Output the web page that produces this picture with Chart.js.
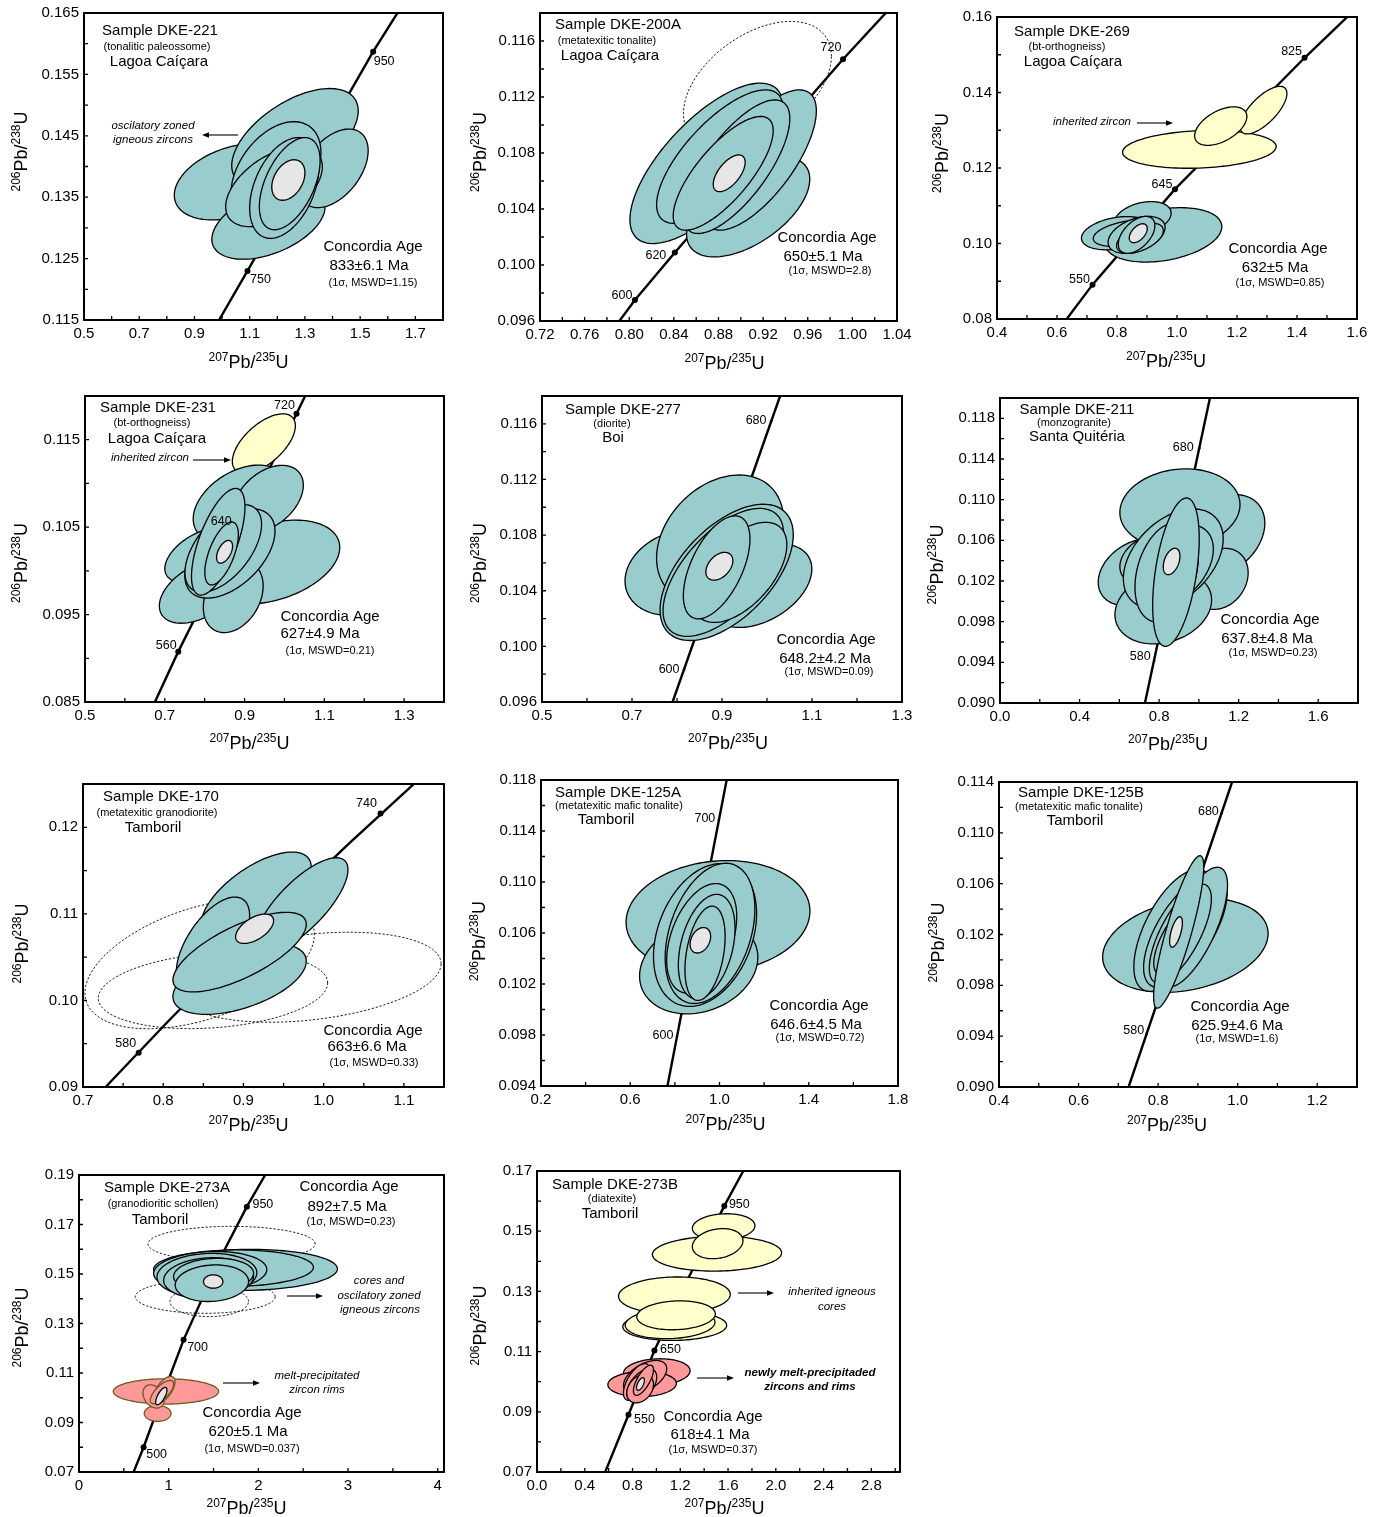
<!doctype html>
<html lang="en">
<head>
<meta charset="UTF-8" />
<title>U-Pb concordia diagrams</title>
<script src="https://cdn.jsdelivr.net/npm/chart.js@4"></script>
<style>
  body { margin: 0; background: #fff; }
  #fig { position: relative; width: 1379px; height: 1517px; overflow: hidden; background: #fff; }
  #fig canvas { position: absolute; }
</style>
</head>
<body>
<div id="fig"></div>
<script>
const FONT = '"Liberation Sans", Arial, Helvetica, sans-serif';
// zircon populations: ign = igneous/concordant, inh = inherited, rim = melt-precipitated,
// age = concordia age ellipse, exc = excluded analyses (dashed)
const COLORS = { ign: '#99CCCC', inh: '#FFFFCC', rim: '#FF9999', age: '#E6E6E6' };

// ---------- DKE-221 ----------
const dke221XLabels = ['0.5', '0.7', '0.9', '1.1', '1.3', '1.5', '1.7'];
const dke221YLabels = ['0.115', '0.125', '0.135', '0.145', '0.155', '0.165'];
const dke221Concordia = [[0.97, 0.1135], [1.092, 0.123], [1.547, 0.1587], [1.67, 0.1675]];
const dke221Ages = [['950', 1.547, 0.1587], ['750', 1.092, 0.123]];
const dke221Ellipses = [
  ['ign', 1.038, 0.1375, 0.211, 0.0062, 0.35],
  ['ign', 1.168, 0.1308, 0.205, 0.0059, 0.45],
  ['ign', 1.264, 0.1446, 0.229, 0.0081, 0.55],
  ['ign', 1.403, 0.1397, 0.126, 0.0064, 0.45],
  ['ign', 1.195, 0.1389, 0.163, 0.0084, 0.4],
  ['ign', 1.188, 0.1367, 0.175, 0.0065, 0.5],
  ['ign', 1.225, 0.1365, 0.125, 0.0082, 0.4],
  ['ign', 1.245, 0.1372, 0.11, 0.0075, 0.5],
  ['age', 1.24, 0.1378, 0.06, 0.0033, 0.35],
];

// ---------- DKE-200A ----------
const dke200aXLabels = ['0.72', '0.76', '0.80', '0.84', '0.88', '0.92', '0.96', '1.00', '1.04'];
const dke200aYLabels = ['0.096', '0.100', '0.104', '0.108', '0.112', '0.116'];
const dke200aConcordia = [[0.78, 0.0948], [0.8051, 0.0975], [0.8409, 0.1009], [0.9916, 0.1147], [1.045, 0.1193]];
const dke200aAges = [['600', 0.8051, 0.0975], ['620', 0.8409, 0.1009], ['720', 0.9916, 0.1147]];
const dke200aEllipses = [
  ['exc', 0.9149, 0.11287, 0.0663, 0.00453, 0.45],
  ['ign', 0.8693, 0.10726, 0.0687, 0.00573, 0.7],
  ['ign', 0.9066, 0.10416, 0.0552, 0.00358, 0.55],
  ['ign', 0.917, 0.1075, 0.0507, 0.00501, 0.7],
  ['ign', 0.8812, 0.10774, 0.0567, 0.00477, 0.72],
  ['ign', 0.8961, 0.10702, 0.0478, 0.00477, 0.72],
  ['ign', 0.8842, 0.10655, 0.0448, 0.00406, 0.75],
  ['age', 0.8896, 0.10655, 0.0143, 0.00131, 0.6],
];

// ---------- DKE-269 ----------
const dke269XLabels = ['0.4', '0.6', '0.8', '1.0', '1.2', '1.4', '1.6'];
const dke269YLabels = ['0.08', '0.10', '0.12', '0.14', '0.16'];
const dke269Concordia = [[0.62, 0.0787], [0.7184, 0.0891], [0.9933, 0.1144], [1.4253, 0.1492], [1.62, 0.164]];
const dke269Ages = [['825', 1.4253, 0.1492], ['645', 0.9933, 0.1144], ['550', 0.7184, 0.0891]];
const dke269Ellipses = [
  ['inh', 1.0746, 0.12493, 0.256, 0.005, 0.15],
  ['inh', 1.2883, 0.13533, 0.078, 0.0063, 0.7],
  ['inh', 1.1459, 0.1311, 0.087, 0.0051, 0.5],
  ['ign', 0.9544, 0.10229, 0.195, 0.0072, 0.3],
  ['ign', 0.8854, 0.1067, 0.095, 0.0044, 0.3],
  ['ign', 0.7985, 0.10273, 0.117, 0.0044, 0.3],
  ['ign', 0.8319, 0.10273, 0.111, 0.0035, 0.4],
  ['ign', 0.8653, 0.10229, 0.095, 0.0049, 0.4],
  ['ign', 0.8765, 0.10141, 0.078, 0.004, 0.5],
  ['ign', 0.8653, 0.10229, 0.061, 0.0049, 0.5],
  ['age', 0.8709, 0.10273, 0.03, 0.0025, 0.5],
];

// ---------- DKE-231 ----------
const dke231XLabels = ['0.5', '0.7', '0.9', '1.1', '1.3'];
const dke231YLabels = ['0.085', '0.095', '0.105', '0.115'];
const dke231Concordia = [[0.66, 0.0835], [0.7338, 0.09076], [0.8841, 0.10447], [1.0303, 0.11798], [1.07, 0.1217]];
const dke231Ages = [['560', 0.7338, 0.09076], ['640', 0.8841, 0.10447], ['720', 1.0303, 0.11798]];
const dke231Ellipses = [
  ['inh', 0.9484, 0.11456, 0.079, 0.0034, 0.6],
  ['ign', 0.9676, 0.101, 0.171, 0.0048, 0.35],
  ['ign', 0.8883, 0.1077, 0.117, 0.0044, 0.4],
  ['ign', 0.9593, 0.10827, 0.088, 0.0038, 0.4],
  ['ign', 0.7881, 0.1018, 0.088, 0.0031, 0.5],
  ['ign', 0.7864, 0.09761, 0.1, 0.0036, 0.45],
  ['ign', 0.8716, 0.09704, 0.075, 0.0041, 0.3],
  ['ign', 0.8633, 0.10199, 0.113, 0.0051, 0.5],
  ['ign', 0.8466, 0.10256, 0.096, 0.005, 0.55],
  ['ign', 0.834, 0.10333, 0.067, 0.0061, 0.65],
  ['ign', 0.8424, 0.10199, 0.042, 0.0036, 0.6],
  ['age', 0.8499, 0.10218, 0.02, 0.0013, 0.5],
];

// ---------- DKE-277 ----------
const dke277XLabels = ['0.5', '0.7', '0.9', '1.1', '1.3'];
const dke277YLabels = ['0.096', '0.100', '0.104', '0.108', '0.112', '0.116'];
const dke277Concordia = [[0.77, 0.09415], [0.7902, 0.096], [1.0291, 0.118], [1.05, 0.11992]];
const dke277Ages = [['680', 1.0091, 0.11618], ['600', 0.8157, 0.09831]];
const dke277Ellipses = [
  ['ign', 0.8065, 0.10532, 0.122, 0.0031, 0.2],
  ['ign', 0.9846, 0.10436, 0.115, 0.003, 0.4],
  ['ign', 0.8956, 0.10772, 0.141, 0.0046, 0.3],
  ['ign', 0.9104, 0.10532, 0.148, 0.0049, 0.55],
  ['ign', 0.903, 0.10532, 0.134, 0.0046, 0.6],
  ['ign', 0.9401, 0.10532, 0.104, 0.0036, 0.55],
  ['ign', 0.8881, 0.10568, 0.074, 0.0037, 0.55],
  ['age', 0.8941, 0.10576, 0.03, 0.001, 0.4],
];

// ---------- DKE-211 ----------
const dke211XLabels = ['0.0', '0.4', '0.8', '1.2', '1.6'];
const dke211YLabels = ['0.090', '0.094', '0.098', '0.102', '0.106', '0.110', '0.114', '0.118'];
const dke211Concordia = [[0.71, 0.08827], [0.7288, 0.09], [1.0555, 0.12], [1.075, 0.1218]];
const dke211Ages = [['680', 1.0018, 0.11506], ['580', 0.7752, 0.09414]];
const dke211Ellipses = [
  ['ign', 1.1225, 0.10649, 0.209, 0.004, 0.3],
  ['ign', 1.1057, 0.10221, 0.142, 0.003, 0.2],
  ['ign', 0.9047, 0.10913, 0.302, 0.0039, 0.1],
  ['ign', 0.6869, 0.10287, 0.193, 0.0033, 0.3],
  ['ign', 0.8209, 0.09941, 0.243, 0.0036, 0.2],
  ['ign', 0.7707, 0.10419, 0.168, 0.0026, 0.3],
  ['ign', 0.8712, 0.10419, 0.251, 0.0049, 0.4],
  ['ign', 0.8796, 0.10353, 0.193, 0.004, 0.4],
  ['ign', 0.8377, 0.10287, 0.159, 0.0049, 0.3],
  ['ign', 0.8846, 0.10287, 0.117, 0.0073, 0.45],
  ['age', 0.8628, 0.10392, 0.042, 0.0013, 0.4],
];

// ---------- DKE-170 ----------
const dke170XLabels = ['0.7', '0.8', '0.9', '1.0', '1.1'];
const dke170YLabels = ['0.09', '0.10', '0.11', '0.12'];
const dke170Concordia = [[0.7182, 0.089], [0.7359, 0.09075], [0.8056, 0.09754], [0.8783, 0.10438],
  [0.9537, 0.11125], [1.0321, 0.11817], [1.1138, 0.12512], [1.16, 0.1289]];
const dke170Ages = [['580', 0.7694, 0.09396], ['740', 1.0709, 0.1216]];
const dke170Ellipses = [
  ['exc', 0.8454, 0.10423, 0.143, 0.0075, 0.45],
  ['exc', 0.862, 0.10114, 0.143, 0.0044, 0.2],
  ['exc', 0.9824, 0.10268, 0.164, 0.0052, 0.3],
  ['ign', 0.916, 0.11214, 0.0685, 0.005, 0.65],
  ['ign', 0.9721, 0.11098, 0.0582, 0.0055, 0.75],
  ['ign', 0.862, 0.10654, 0.0457, 0.0054, 0.6],
  ['ign', 0.8952, 0.10249, 0.0831, 0.0041, 0.5],
  ['ign', 0.8952, 0.10558, 0.0831, 0.0046, 0.7],
  ['age', 0.9139, 0.10828, 0.0237, 0.0017, 0.55],
];

// ---------- DKE-125A ----------
const dke125aXLabels = ['0.2', '0.6', '1.0', '1.4', '1.8'];
const dke125aYLabels = ['0.094', '0.098', '0.102', '0.106', '0.110', '0.114', '0.118'];
const dke125aConcordia = [[0.75, 0.0925], [0.7667, 0.094], [1.0321, 0.118], [1.05, 0.1196]];
const dke125aAges = [['700', 0.9973, 0.11486], ['600', 0.8095, 0.09787]];
const dke125aEllipses = [
  ['ign', 0.9933, 0.10728, 0.412, 0.0044, 0.1],
  ['ign', 0.9068, 0.10336, 0.265, 0.0037, 0.2],
  ['ign', 0.9352, 0.10584, 0.231, 0.0056, 0.3],
  ['ign', 0.9575, 0.10597, 0.201, 0.0055, 0.35],
  ['ign', 0.9203, 0.10558, 0.157, 0.0043, 0.4],
  ['ign', 0.9426, 0.10493, 0.127, 0.0041, 0.35],
  ['ign', 0.9352, 0.10441, 0.09, 0.0037, 0.35],
  ['age', 0.9143, 0.10543, 0.046, 0.001, 0.3],
];

// ---------- DKE-125B ----------
const dke125bXLabels = ['0.4', '0.6', '0.8', '1.0', '1.2'];
const dke125bYLabels = ['0.090', '0.094', '0.098', '0.102', '0.106', '0.110', '0.114'];
const dke125bConcordia = [[0.71, 0.08855], [0.7258, 0.09], [0.986, 0.114], [1.0, 0.1153]];
const dke125bAges = [['680', 0.959, 0.11151], ['580', 0.7713, 0.0942]];
const dke125bEllipses = [
  ['ign', 0.8685, 0.10115, 0.208, 0.0037, 0.25],
  ['ign', 0.839, 0.10233, 0.1, 0.0048, 0.6],
  ['ign', 0.8685, 0.10233, 0.105, 0.0045, 0.65],
  ['ign', 0.8895, 0.10259, 0.085, 0.0047, 0.7],
  ['ign', 0.8559, 0.10207, 0.078, 0.0039, 0.7],
  ['ign', 0.8391, 0.10154, 0.05, 0.0026, 0.7],
  ['ign', 0.8517, 0.1022, 0.063, 0.006, 0.85],
  ['age', 0.845, 0.1022, 0.016, 0.0012, 0.6],
];

// ---------- DKE-273A ----------
const dke273aXLabels = ['0', '1', '2', '3', '4'];
const dke273aYLabels = ['0.07', '0.09', '0.11', '0.13', '0.15', '0.17', '0.19'];
const dke273aConcordia = [[0.55, 0.0647], [0.609, 0.07], [0.7205, 0.08], [0.9322, 0.101], [1.1662, 0.1234],
  [1.5933, 0.1577], [1.8719, 0.1772], [2.076, 0.19], [2.15, 0.1945]];
const dke273aAges = [['950', 1.8719, 0.1772], ['700', 1.1662, 0.1234], ['500', 0.7205, 0.08]];
const dke273aEllipses = [
  ['exc', 1.701, 0.16215, 0.932, 0.0071, 0],
  ['exc', 1.4076, 0.14082, 0.78, 0.0067, 0],
  ['exc', 1.4522, 0.13888, 0.438, 0.0061, 0],
  ['ign', 1.8607, 0.15166, 1.021, 0.0083, 0.05],
  ['ign', 1.7233, 0.15233, 0.891, 0.0074, 0.05],
  ['ign', 1.4633, 0.151, 0.631, 0.0081, 0.1],
  ['ign', 1.4262, 0.14964, 0.557, 0.0087, 0.1],
  ['ign', 1.4448, 0.14829, 0.501, 0.0083, 0.1],
  ['ign', 1.5005, 0.14964, 0.446, 0.0067, 0.1],
  ['ign', 1.4819, 0.14628, 0.409, 0.0074, 0.1],
  ['age', 1.4967, 0.14695, 0.108, 0.0027, 0],
  ['rim', 0.9694, 0.10255, 0.587, 0.0051, 0],
  ['rim', 0.8765, 0.09367, 0.149, 0.0032, 0],
  ['rim', 0.8319, 0.10053, 0.119, 0.0047, -0.3],
  ['rim', 0.9508, 0.10322, 0.119, 0.0054, 0.6],
  ['rim', 0.9248, 0.10228, 0.13, 0.0047, 0.7],
  ['age', 0.9174, 0.10067, 0.063, 0.0035, 0.7],
];

// ---------- DKE-273B ----------
const dke273bXLabels = ['0.0', '0.4', '0.8', '1.2', '1.6', '2.0', '2.4', '2.8'];
const dke273bYLabels = ['0.07', '0.09', '0.11', '0.13', '0.15', '0.17'];
const dke273bConcordia = [[0.55, 0.068], [0.5712, 0.07], [0.7662, 0.089], [0.9836, 0.1104], [1.265, 0.1342],
  [1.5687, 0.1584], [1.7275, 0.17], [1.76, 0.1724]];
const dke273bAges = [['950', 1.5687, 0.1584], ['650', 0.9836, 0.1104], ['550', 0.7662, 0.089]];
const dke273bEllipses = [
  ['inh', 1.5631, 0.1514, 0.262, 0.0044, 0.1],
  ['inh', 1.5074, 0.14254, 0.541, 0.0058, 0.05],
  ['inh', 1.513, 0.14586, 0.212, 0.005, 0.2],
  ['inh', 1.1507, 0.12869, 0.468, 0.0061, 0.05],
  ['inh', 1.1535, 0.11851, 0.435, 0.0048, 0.05],
  ['inh', 1.1145, 0.11928, 0.376, 0.005, 0.1],
  ['inh', 1.1647, 0.12205, 0.329, 0.0048, 0.1],
  ['rim', 1.0031, 0.10322, 0.279, 0.0044, 0.1],
  ['rim', 0.8805, 0.09923, 0.287, 0.0042, 0.05],
  ['rim', 0.9055, 0.10156, 0.181, 0.0055, 0.5],
  ['rim', 0.8359, 0.0999, 0.112, 0.0061, 0.6],
  ['rim', 0.8777, 0.09879, 0.125, 0.0055, 0.5],
  ['rim', 0.8638, 0.09768, 0.112, 0.0047, 0.3],
  ['rim', 0.8916, 0.10046, 0.084, 0.005, 0.7],
  ['age', 0.8666, 0.09923, 0.033, 0.0021, 0.6],
];

// ---------- panel layout (page pixels, text offsets from plot corner) ----------
const PANELS = [
  { box: [84, 13, 443, 320], x: [0.5, 1.8, 0.1], y: [0.115, 0.165, 0.005], xl: dke221XLabels, yl: dke221YLabels,
    conc: dke221Concordia, ages: dke221Ages, ell: dke221Ellipses, dot: 3, ageOff: [[11, 10], [13, 9]],
    text: [['Sample DKE-221', 76, 18, 15], ['(tonalitic paleossome)', 73, 34, 11], ['Lagoa Caíçara', 75, 49, 15],
      ['oscilatory zoned', 69, 113, 11.5, 'italic'], ['igneous zircons', 69, 127, 11.5, 'italic'],
      ['Concordia Age', 289, 234, 15], ['833±6.1 Ma', 285, 253, 15], ['(1σ, MSWD=1.15)', 289, 270, 11]],
    arrows: [[154, 122, 118, 122]], ytX: 64, ytDy: -15, xtY: 41, xtDx: -15 },
  { box: [540, 13, 897, 321], x: [0.72, 1.04, 0.02], y: [0.096, 0.118, 0.002], xl: dke200aXLabels, yl: dke200aYLabels,
    conc: dke200aConcordia, ages: dke200aAges, ell: dke200aEllipses, dot: 3, ageOff: [[-13, -4], [-19, 3], [-12, -12]],
    text: [['Sample DKE-200A', 78, 12, 15], ['(metatexitic tonalite)', 67, 28, 11], ['Lagoa Caíçara', 70, 43, 15],
      ['Concordia Age', 287, 225, 15], ['650±5.1 Ma', 283, 244, 15], ['(1σ, MSWD=2.8)', 290, 258, 11]],
    arrows: [], ytX: 61, ytDy: -15, xtY: 41, xtDx: 6 },
  { box: [997, 17, 1357, 319], x: [0.4, 1.6, 0.1], y: [0.08, 0.16, 0.01], xl: dke269XLabels, yl: dke269YLabels,
    conc: dke269Concordia, ages: dke269Ages, ell: dke269Ellipses, dot: 3, ageOff: [[-13, -6], [-13, -5], [-13, -5]],
    text: [['Sample DKE-269', 75, 15, 15], ['(bt-orthogneiss)', 70, 30, 11], ['Lagoa Caíçara', 76, 45, 15],
      ['inherited zircon', 95, 105, 11.5, 'italic'],
      ['Concordia Age', 281, 232, 15], ['632±5 Ma', 278, 251, 15], ['(1σ, MSWD=0.85)', 283, 266, 11]],
    arrows: [[140, 106, 176, 106]], ytX: 56, ytDy: -15, xtY: 41, xtDx: -11 },
  { box: [85, 396, 444, 702], x: [0.5, 1.4, 0.1], y: [0.085, 0.12, 0.005], xl: dke231XLabels, yl: dke231YLabels,
    conc: dke231Concordia, ages: dke231Ages, ell: dke231Ellipses, dot: 3, ageOff: [[-12, -6], [-17, -10], [-12, -8]],
    text: [['Sample DKE-231', 73, 12, 15], ['(bt-orthogneiss)', 67, 27, 11], ['Lagoa Caíçara', 72, 43, 15],
      ['inherited zircon', 65, 62, 11.5, 'italic'],
      ['Concordia Age', 245, 221, 15], ['627±4.9 Ma', 235, 238, 15], ['(1σ, MSWD=0.21)', 245, 255, 11]],
    arrows: [[108, 64, 146, 64]], ytX: 65, ytDy: 14, xtY: 40, xtDx: -15 },
  { box: [542, 396, 902, 702], x: [0.5, 1.3, 0.1], y: [0.096, 0.118, 0.002], xl: dke277XLabels, yl: dke277YLabels,
    conc: dke277Concordia, ages: dke277Ages, ell: dke277Ellipses, dot: 1.3, ageOff: [[-15, -1], [-15, 0]],
    text: [['Sample DKE-277', 81, 14, 15], ['(diorite)', 70, 28, 11], ['Boi', 71, 42, 15],
      ['Concordia Age', 284, 244, 15], ['648.2±4.2 Ma', 283, 263, 15], ['(1σ, MSWD=0.09)', 287, 276, 11]],
    arrows: [], ytX: 63, ytDy: 14, xtY: 40, xtDx: 6 },
  { box: [1000, 398, 1358, 703], x: [0, 1.8, 0.2], y: [0.09, 0.12, 0.002], xl: dke211XLabels, yl: dke211YLabels,
    conc: dke211Concordia, ages: dke211Ages, ell: dke211Ellipses, dot: 1.3, ageOff: [[-16, -1], [-14, -4]],
    text: [['Sample DKE-211', 77, 12, 15], ['(monzogranite)', 74, 25, 11], ['Santa Quitéria', 77, 39, 15],
      ['Concordia Age', 270, 222, 15], ['637.8±4.8 Ma', 267, 241, 15], ['(1σ, MSWD=0.23)', 273, 255, 11]],
    arrows: [], ytX: 64, ytDy: 14, xtY: 40, xtDx: -11 },
  { box: [83, 784, 444, 1087], x: [0.7, 1.15, 0.05], y: [0.09, 0.125, 0.005], xl: dke170XLabels, yl: dke170YLabels,
    conc: dke170Concordia, ages: dke170Ages, ell: dke170Ellipses, dot: 3, ageOff: [[-13, -9], [-14, -10]],
    text: [['Sample DKE-170', 78, 13, 15], ['(metatexitic granodiorite)', 74, 29, 11], ['Tamboril', 70, 44, 15],
      ['Concordia Age', 290, 247, 15], ['663±6.6 Ma', 284, 263, 15], ['(1σ, MSWD=0.33)', 291, 279, 11]],
    arrows: [], ytX: 62, ytDy: 8, xtY: 37, xtDx: -15 },
  { box: [541, 780, 898, 1086], x: [0.2, 1.8, 0.2], y: [0.094, 0.118, 0.002], xl: dke125aXLabels, yl: dke125aYLabels,
    conc: dke125aConcordia, ages: dke125aAges, ell: dke125aEllipses, dot: 1.3, ageOff: [[-14, -1], [-14, -1]],
    text: [['Sample DKE-125A', 77, 13, 15], ['(metatexitic mafic tonalite)', 78, 26, 11], ['Tamboril', 65, 40, 15],
      ['Concordia Age', 278, 226, 15], ['646.6±4.5 Ma', 275, 245, 15], ['(1σ, MSWD=0.72)', 279, 258, 11]],
    arrows: [], ytX: 63, ytDy: 8, xtY: 37, xtDx: 6 },
  { box: [999, 782, 1357, 1087], x: [0.4, 1.3, 0.1], y: [0.09, 0.114, 0.002], xl: dke125bXLabels, yl: dke125bYLabels,
    conc: dke125bConcordia, ages: dke125bAges, ell: dke125bEllipses, dot: 1.3, ageOff: [[-13, -2], [-13, -3]],
    text: [['Sample DKE-125B', 82, 11, 15], ['(metatexitic mafic tonalite)', 80, 25, 11], ['Tamboril', 76, 39, 15],
      ['Concordia Age', 241, 225, 15], ['625.9±4.6 Ma', 238, 244, 15], ['(1σ, MSWD=1.6)', 238, 257, 11]],
    arrows: [], ytX: 62, ytDy: 8, xtY: 37, xtDx: -11 },
  { box: [79, 1175, 444, 1472], x: [0, 4.07, 0.5], y: [0.07, 0.19, 0.01], xl: dke273aXLabels, yl: dke273aYLabels,
    conc: dke273aConcordia, ages: dke273aAges, ell: dke273aEllipses, dot: 3, ageOff: [[16, -2], [14, 8], [13, 7]],
    rimEdge: '#6b5a1e',
    text: [['Sample DKE-273A', 88, 13, 15], ['(granodioritic schollen)', 84, 29, 11], ['Tamboril', 81, 45, 15],
      ['Concordia Age', 270, 12, 15], ['892±7.5 Ma', 268, 32, 15], ['(1σ, MSWD=0.23)', 272, 47, 11],
      ['cores and', 300, 106, 11.5, 'italic'], ['oscilatory zoned', 300, 121, 11.5, 'italic'],
      ['igneous zircons', 301, 135, 11.5, 'italic'],
      ['melt-precipitated', 238, 201, 11.5, 'italic'], ['zircon rims', 238, 215, 11.5, 'italic'],
      ['Concordia Age', 173, 238, 15], ['620±5.1 Ma', 169, 257, 15], ['(1σ, MSWD=0.037)', 173, 274, 11]],
    arrows: [[208, 121, 244, 121], [144, 208, 181, 208]], ytX: 58, ytDy: 4, xtY: 35, xtDx: -15 },
  { box: [537, 1171, 900, 1472], x: [0, 3.04, 0.2], y: [0.07, 0.17, 0.01], xl: dke273bXLabels, yl: dke273bYLabels,
    conc: dke273bConcordia, ages: dke273bAges, ell: dke273bEllipses, dot: 3, ageOff: [[15, -1], [16, -1], [16, 5]],
    text: [['Sample DKE-273B', 78, 14, 15], ['(diatexite)', 75, 28, 11], ['Tamboril', 73, 43, 15],
      ['inherited igneous', 295, 121, 11.5, 'italic'], ['cores', 295, 136, 11.5, 'italic'],
      ['newly melt-precipitaded', 273, 202, 11.5, 'bold italic'], ['zircons and rims', 273, 216, 11.5, 'bold italic'],
      ['Concordia Age', 176, 246, 15], ['618±4.1 Ma', 173, 264, 15], ['(1σ, MSWD=0.37)', 176, 279, 11]],
    arrows: [[201, 122, 237, 122], [160, 207, 197, 207]], ytX: 58, ytDy: 4, xtY: 35, xtDx: 6 },
];

const Y_AXIS_W = 80, X_AXIS_H = 60, PAD_TOP = 18, PAD_RIGHT = 26, TICK_LEN = 4;

function tickValues(min, max, step) {
  const out = [];
  for (let k = Math.ceil(min / step - 1e-6); k * step <= max + 1e-9; k++) out.push(+(k * step).toFixed(6));
  return out;
}

function axis(range, labels, isX) {
  const [min, max, step] = range;
  return {
    type: 'linear', min: min, max: max,
    afterBuildTicks: s => { s.ticks = tickValues(min, max, step).map(v => ({ value: v })); },
    afterFit: s => { if (isX) s.height = X_AXIS_H; else s.width = Y_AXIS_W; },
    ticks: {
      autoSkip: false, maxRotation: 0, padding: 5, color: '#000',
      font: { family: FONT, size: 15 },
      callback: v => labels.find(l => Math.abs(parseFloat(l) - v) < 1e-7) || '',
    },
    grid: { display: false, drawTicks: false },
    border: { display: false },
  };
}

// superscripted isotope ratio, e.g. 207Pb/235U, centred on (cx, cy)
function supText(ctx, parts, cx, cy) {
  const big = '18px ' + FONT, small = '12px ' + FONT;
  ctx.textAlign = 'left';
  ctx.textBaseline = 'alphabetic';
  const w = parts.map((s, i) => { ctx.font = i % 2 ? big : small; return ctx.measureText(s).width; });
  let x = cx - w.reduce((p, q) => p + q, 0) / 2;
  const base = cy + 6.5;
  parts.forEach((s, i) => {
    ctx.font = i % 2 ? big : small;
    ctx.fillText(s, x, i % 2 ? base : base - 6.5);
    x += w[i];
  });
}

function arrow(ctx, x1, y1, x2, y2) {
  const ang = Math.atan2(y2 - y1, x2 - x1), L = 7, H = 2.8;
  ctx.lineWidth = 1.1;
  ctx.beginPath();
  ctx.moveTo(x1, y1);
  ctx.lineTo(x2 - L * Math.cos(ang), y2 - L * Math.sin(ang));
  ctx.stroke();
  ctx.beginPath();
  ctx.moveTo(x2, y2);
  ctx.lineTo(x2 - L * Math.cos(ang) + H * Math.sin(ang), y2 - L * Math.sin(ang) - H * Math.cos(ang));
  ctx.lineTo(x2 - L * Math.cos(ang) - H * Math.sin(ang), y2 - L * Math.sin(ang) + H * Math.cos(ang));
  ctx.closePath();
  ctx.fill();
}

function concordiaPlugin(P) {
  return {
    id: 'concordia',
    // error ellipses sit on top of the concordia curve
    afterDatasetsDraw(chart) {
      const ctx = chart.ctx, a = chart.chartArea, xs = chart.scales.x, ys = chart.scales.y;
      ctx.save();
      ctx.beginPath();
      ctx.rect(a.left, a.top, a.right - a.left, a.bottom - a.top);
      ctx.clip();
      P.ell.forEach(([kind, cx, cy, sx, sy, r]) => {
        const q = Math.sqrt(1 - r * r);
        ctx.beginPath();
        for (let i = 0; i <= 120; i++) {
          const t = i / 120 * 2 * Math.PI;
          const px = xs.getPixelForValue(cx + sx * Math.cos(t));
          const py = ys.getPixelForValue(cy + sy * (r * Math.cos(t) + q * Math.sin(t)));
          if (i === 0) ctx.moveTo(px, py); else ctx.lineTo(px, py);
        }
        ctx.closePath();
        ctx.strokeStyle = '#000';
        if (kind === 'exc') {
          ctx.setLineDash([2.2, 1.8]);
          ctx.lineWidth = 0.9;
          ctx.stroke();
          ctx.setLineDash([]);
        } else {
          ctx.fillStyle = COLORS[kind];
          ctx.fill();
          ctx.lineWidth = 1.3;
          if (kind === 'rim' && P.rimEdge) ctx.strokeStyle = P.rimEdge;
          ctx.stroke();
        }
      });
      ctx.restore();
    },
    afterDraw(chart) {
      const ctx = chart.ctx, a = chart.chartArea, xs = chart.scales.x, ys = chart.scales.y;
      ctx.save();
      ctx.fillStyle = '#000';
      ctx.strokeStyle = '#000';
      ctx.textAlign = 'center';
      ctx.textBaseline = 'middle';
      ctx.font = '12.5px ' + FONT;
      P.ages.forEach(([lab, x, y], i) => {
        const [dx, dy] = P.ageOff[i];
        ctx.fillText(lab, xs.getPixelForValue(x) + dx, ys.getPixelForValue(y) + dy);
      });
      P.text.forEach(([s, dx, dy, size, style]) => {
        ctx.font = (style ? style + ' ' : '') + size + 'px ' + FONT;
        ctx.fillText(s, a.left + dx, a.top + dy);
      });
      P.arrows.forEach(([x1, y1, x2, y2]) => arrow(ctx, a.left + x1, a.top + y1, a.left + x2, a.top + y2));
      // inward tick marks on the bottom and left axes
      ctx.lineWidth = 1.3;
      ctx.beginPath();
      xs.ticks.forEach(t => {
        const px = xs.getPixelForValue(t.value);
        ctx.moveTo(px, a.bottom);
        ctx.lineTo(px, a.bottom - TICK_LEN);
      });
      ys.ticks.forEach(t => {
        const py = ys.getPixelForValue(t.value);
        ctx.moveTo(a.left, py);
        ctx.lineTo(a.left + TICK_LEN, py);
      });
      ctx.stroke();
      ctx.lineWidth = 2;
      ctx.strokeRect(a.left, a.top, a.right - a.left, a.bottom - a.top);
      supText(ctx, ['207', 'Pb/', '235', 'U'], (a.left + a.right) / 2 + P.xtDx, a.bottom + P.xtY);
      ctx.translate(a.left - P.ytX, (a.top + a.bottom) / 2 + P.ytDy);
      ctx.rotate(-Math.PI / 2);
      supText(ctx, ['206', 'Pb/', '238', 'U'], 0, 0);
      ctx.restore();
    },
  };
}

const fig = document.getElementById('fig');
PANELS.forEach(P => {
  const [x0, y0, x1, y1] = P.box;
  const cv = document.createElement('canvas');
  cv.width = x1 - x0 + Y_AXIS_W + PAD_RIGHT;
  cv.height = y1 - y0 + PAD_TOP + X_AXIS_H;
  cv.style.left = (x0 - Y_AXIS_W) + 'px';
  cv.style.top = (y0 - PAD_TOP) + 'px';
  fig.appendChild(cv);
  new Chart(cv, {
    type: 'scatter',
    data: {
      datasets: [
        { data: P.conc.map(([x, y]) => ({ x, y })), showLine: true, borderColor: '#000', borderWidth: 2.4,
          pointRadius: 0, tension: 0 },
        { data: P.ages.map(([, x, y]) => ({ x, y })), showLine: false, pointRadius: P.dot,
          pointBackgroundColor: '#000', pointBorderWidth: 0 },
      ],
    },
    options: {
      responsive: false,
      animation: false,
      events: [],
      layout: { padding: { top: PAD_TOP, right: PAD_RIGHT, left: 0, bottom: 0 } },
      plugins: { legend: { display: false }, tooltip: { enabled: false } },
      scales: { x: axis(P.x, P.xl, true), y: axis(P.y, P.yl, false) },
    },
    plugins: [concordiaPlugin(P)],
  });
});
</script>
</body>
</html>
